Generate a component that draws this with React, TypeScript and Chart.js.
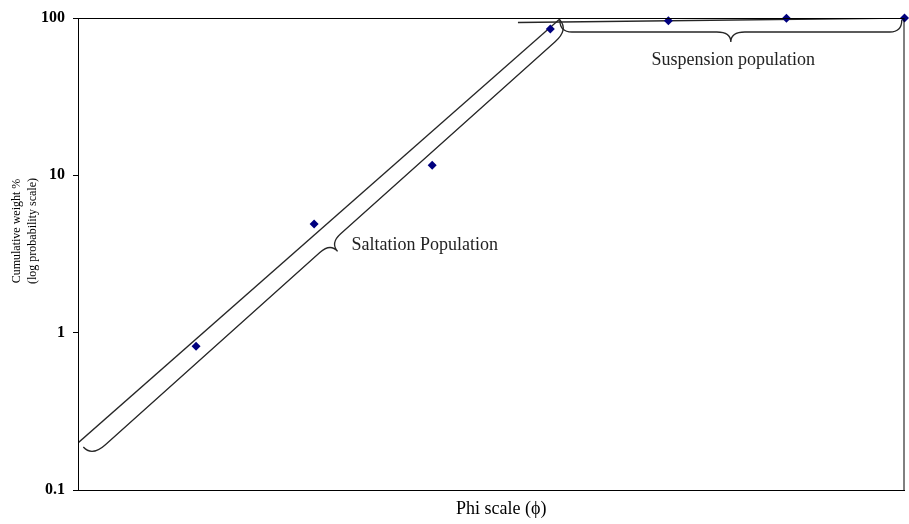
import React, { useEffect, useRef } from "react";
import { Chart, registerables } from "chart.js";

Chart.register(...registerables);

// ---- data ----
const phiPositions = [1, 2, 3, 4, 5, 6, 7];
const cumulativeWeight = [0.82, 4.9, 11.6, 85, 96, 99.8, 100];
const yTickValues = [0.1, 1, 10, 100];
const yTickLabels = ["0.1", "1", "10", "100"];
const saltationLineX = [0, 4.09];
const saltationLineY = [0.199, 100];
const suspensionLineX = [3.726, 7];
const suspensionLineY = [93.6, 100];
const yTitleLines = ["Cumulative weight %", "(log probability scale)"];
const xTitle = "Phi scale (\u03D5)";
const saltationLabel = "Saltation Population";
const suspensionLabel = "Suspension population";

const FONT = "'Liberation Serif', 'Times New Roman', serif";
const LINE_COLOR = "#262626";

function drawBrace(
  ctx: CanvasRenderingContext2D,
  x1: number, y1: number, x2: number, y2: number,
  a: number, r: number, b: number, t: number
) {
  const dx = x2 - x1, dy = y2 - y1;
  const L = Math.hypot(dx, dy);
  const ux = dx / L, uy = dy / L;
  const nx = -uy, ny = ux;
  const P = (u: number, v: number): [number, number] => [x1 + ux * u + nx * v, y1 + uy * u + ny * v];
  ctx.beginPath();
  ctx.moveTo(...P(0, 0));
  ctx.quadraticCurveTo(...P(0, r), ...P(a, r));
  ctx.lineTo(...P(L / 2 - b, r));
  ctx.quadraticCurveTo(...P(L / 2, r), ...P(L / 2, t));
  ctx.quadraticCurveTo(...P(L / 2, r), ...P(L / 2 + b, r));
  ctx.lineTo(...P(L - a, r));
  ctx.quadraticCurveTo(...P(L, r), ...P(L, 0));
  ctx.stroke();
}

const annotationPlugin = {
  id: "annotations",
  afterDraw(chart: any) {
    const { ctx, chartArea, scales } = chart;
    const xs = scales.x, ys = scales.y;
    ctx.save();
    // box border
    ctx.strokeStyle = "#000";
    ctx.lineWidth = 1;
    ctx.strokeRect(chartArea.left + 0.5, chartArea.top + 0.5, chartArea.right - chartArea.left - 1, chartArea.bottom - chartArea.top);

    // braces
    ctx.strokeStyle = LINE_COLOR;
    ctx.lineWidth = 1.3;
    drawBrace(ctx,
      xs.getPixelForValue(0.045), ys.getPixelForValue(0.1877),
      xs.getPixelForValue(4.081), ys.getPixelForValue(97.1),
      18, 13, 14, 24);
    drawBrace(ctx,
      xs.getPixelForValue(4.081), ys.getPixelForValue(97.1),
      xs.getPixelForValue(6.977), ys.getPixelForValue(97.1),
      12, 12, 14, 22);

    // labels
    ctx.fillStyle = "#222";
    ctx.font = `18px ${FONT}`;
    ctx.textBaseline = "middle";
    ctx.textAlign = "left";
    ctx.fillText(saltationLabel, xs.getPixelForValue(2.317), ys.getPixelForValue(3.6));
    ctx.textAlign = "center";
    ctx.fillText(suspensionLabel, xs.getPixelForValue(5.55), ys.getPixelForValue(54.1));

    // x title
    ctx.fillStyle = "#000";
    ctx.fillText(xTitle, (chartArea.left + chartArea.right) / 2 + 10, chartArea.bottom + 19);

    // y title
    ctx.font = `12px ${FONT}`;
    ctx.translate(0, 231);
    ctx.rotate(-Math.PI / 2);
    ctx.textAlign = "center";
    ctx.fillText(yTitleLines[0], 0, 17);
    ctx.fillText(yTitleLines[1], 0, 33);
    ctx.restore();
  },
};

export default function App() {
  const canvasRef = useRef<HTMLCanvasElement | null>(null);

  useEffect(() => {
    const canvas = canvasRef.current;
    if (!canvas) return;
    const chart = new Chart(canvas, {
      type: "scatter",
      data: {
        datasets: [
          {
            label: "Cumulative weight",
            data: phiPositions.map((x, i) => ({ x, y: cumulativeWeight[i] })),
            pointStyle: "rectRot",
            pointRadius: 4.5,
            pointBackgroundColor: "#00007f",
            pointBorderColor: "#00007f",
            pointBorderWidth: 0,
            showLine: false,
            clip: false as any,
            order: 0,
          },
          {
            label: "Saltation",
            data: saltationLineX.map((x, i) => ({ x, y: saltationLineY[i] })),
            showLine: true,
            borderColor: LINE_COLOR,
            borderWidth: 1.3,
            pointRadius: 0,
            order: 1,
          },
          {
            label: "Suspension",
            data: suspensionLineX.map((x, i) => ({ x, y: suspensionLineY[i] })),
            showLine: true,
            borderColor: LINE_COLOR,
            borderWidth: 1.3,
            pointRadius: 0,
            order: 1,
          },
        ],
      },
      options: {
        animation: false,
        responsive: false,
        maintainAspectRatio: false,
        layout: { padding: { left: 0, top: 18, right: 2, bottom: 0 } },
        plugins: {
          legend: { display: false },
          tooltip: { enabled: false },
        },
        scales: {
          x: {
            type: "linear",
            min: 0,
            max: 7,
            grid: { display: false },
            border: { display: true, color: "#000", width: 1 },
            ticks: { display: false },
            title: { display: false },
            afterFit: (scale: any) => {
              scale.height = 34;
            },
          },
          y: {
            type: "logarithmic",
            min: 0.1,
            max: 100,
            grid: {
              display: true,
              drawOnChartArea: false,
              drawTicks: true,
              tickLength: 5,
              tickColor: "#000",
            },
            border: { display: true, color: "#000", width: 1 },
            afterBuildTicks: (scale: any) => {
              scale.ticks = yTickValues.map((v) => ({ value: v }));
            },
            ticks: {
              color: "#000",
              padding: 8,
              font: { family: FONT, size: 16, weight: "bold" },
              callback: (_v: any, i: number) => yTickLabels[i],
            },
            afterFit: (scale: any) => {
              scale.width = 78;
            },
          },
        },
      },
      plugins: [annotationPlugin],
    } as any);
    return () => chart.destroy();
  }, []);

  return (
    <div style={{ position: "fixed", left: 0, top: 0, width: 909, height: 524, background: "#fff" }}>
      <canvas ref={canvasRef} width={909} height={524} style={{ width: 909, height: 524 }} />
    </div>
  );
}
